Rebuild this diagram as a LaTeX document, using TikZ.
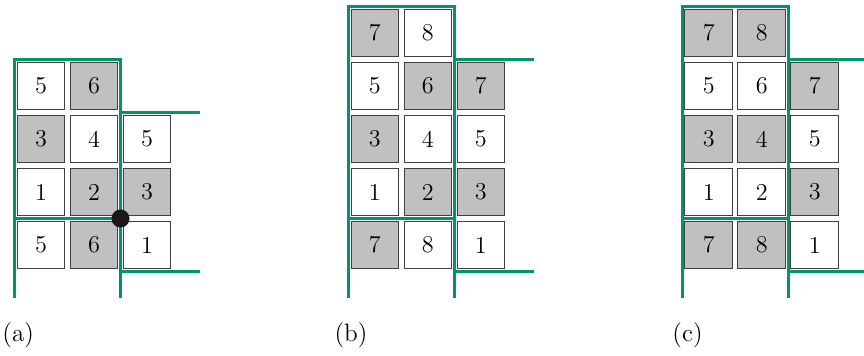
\documentclass[tikz,border=0pt]{standalone}
\definecolor{wallgreen}{RGB}{0,150,100}
\definecolor{tilegray}{RGB}{192,192,192}
\tikzset{
  tile/.style={draw=black!75,line width=0.5pt,minimum size=0.9cm,inner sep=0pt,
    font=\fontsize{13}{15}\selectfont},
  wall/.style={wallgreen,line width=1.7pt},
  caption/.style={font=\fontsize{13.5}{16}\selectfont}
}
\begin{document}
\begin{tikzpicture}
\useasboundingbox (-0.274,-1.594) rectangle (16.03,5.123);
% (a)
\begin{scope}
\foreach \c/\r/\n/\f in {0/3/5/white,1/3/6/tilegray,
  0/2/3/tilegray,1/2/4/white,2/2/5/white,
  0/1/1/white,1/1/2/tilegray,2/1/3/tilegray,
  0/0/5/white,1/0/6/tilegray,2/0/1/white}
  \node[tile,fill=\f] (a\c\r) at (\c+0.5,\r+0.5) {\n};
\draw[wall] (0,-0.5) -- (0,4) -- (2,4) -- (2,-0.5);
\draw[wall] (2,3) -- (3.5,3);
\draw[wall] (0,1) -- (2,1);
\draw[wall] (2,0) -- (3.5,0);
\fill[black!90] (2,1) circle (0.17);
\node[caption] (capa) at (0.07,-1.2) {(a)};
\end{scope}
% (b)
\begin{scope}[xshift=6.3cm]
\foreach \c/\r/\n/\f in {0/4/7/tilegray,1/4/8/white,
  0/3/5/white,1/3/6/tilegray,2/3/7/tilegray,
  0/2/3/tilegray,1/2/4/white,2/2/5/white,
  0/1/1/white,1/1/2/tilegray,2/1/3/tilegray,
  0/0/7/tilegray,1/0/8/white,2/0/1/white}
  \node[tile,fill=\f] (b\c\r) at (\c+0.5,\r+0.5) {\n};
\draw[wall] (0,-0.5) -- (0,5) -- (2,5) -- (2,-0.5);
\draw[wall] (2,4) -- (3.5,4);
\draw[wall] (0,1) -- (2,1);
\draw[wall] (2,0) -- (3.5,0);
\node[caption] (capb) at (0.05,-1.2) {(b)};
\end{scope}
% (c)
\begin{scope}[xshift=12.6cm]
\foreach \c/\r/\n/\f in {0/4/7/tilegray,1/4/8/tilegray,
  0/3/5/white,1/3/6/white,2/3/7/tilegray,
  0/2/3/tilegray,1/2/4/tilegray,2/2/5/white,
  0/1/1/white,1/1/2/white,2/1/3/tilegray,
  0/0/7/tilegray,1/0/8/tilegray,2/0/1/white}
  \node[tile,fill=\f] (c\c\r) at (\c+0.5,\r+0.5) {\n};
\draw[wall] (0,-0.5) -- (0,5) -- (2,5) -- (2,-0.5);
\draw[wall] (2,4) -- (3.5,4);
\draw[wall] (0,1) -- (2,1);
\draw[wall] (2,0) -- (3.5,0);
\node[caption] (capc) at (0.1,-1.2) {(c)};
\end{scope}
\end{tikzpicture}
\end{document}
